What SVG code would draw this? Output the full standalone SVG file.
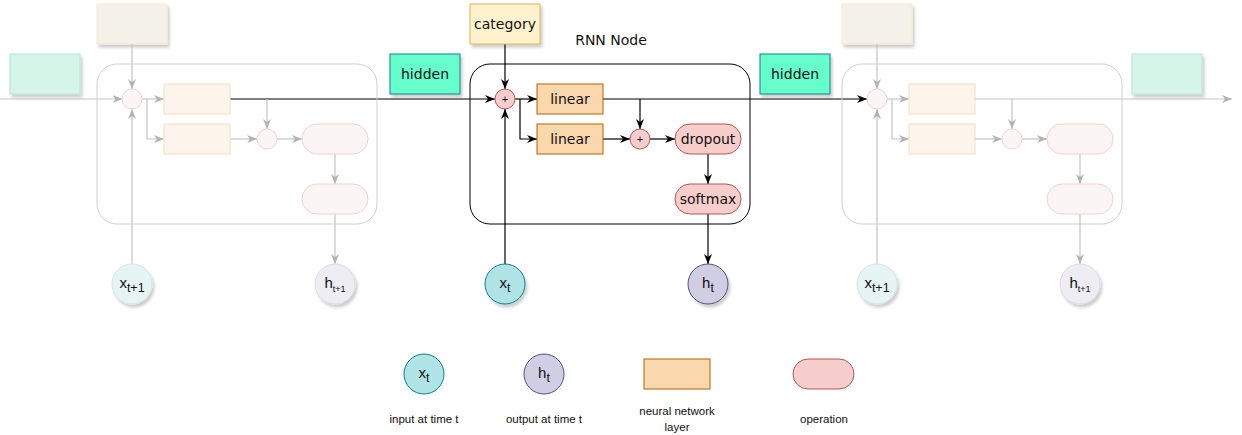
<svg xmlns="http://www.w3.org/2000/svg" width="1242" height="435" viewBox="0 0 1242 435">
<style>
.lbl{font-family:"DejaVu Sans",Verdana,sans-serif;font-size:14px;fill:#111;text-anchor:middle}
.sm{font-family:"Liberation Sans",Arial,sans-serif;fill:#111;text-anchor:middle}
.leg{font-family:"Liberation Sans",Arial,sans-serif;font-size:11.5px;fill:#111;text-anchor:middle}
.hid{fill:#66ffcc;stroke:#0e8088;stroke-width:1}
.cat{fill:#fff2cc;stroke:#d6b656;stroke-width:1}
.lin{fill:#fad7ac;stroke:#b46504;stroke-width:1}
.op{fill:#f8cecc;stroke:#b85450;stroke-width:1}
.xin{fill:#b0e3e6;stroke:#0e8088;stroke-width:1}
.hout{fill:#d0cee2;stroke:#56517e;stroke-width:1}
.box{fill:none;stroke:#000;stroke-width:1}
.ln{fill:none;stroke:#000;stroke-width:1.2}
.fhid{fill:#d5f5e9;stroke:#b3e3d9;stroke-width:1}
.fcat{fill:#f4f1e9;stroke:#f7e9cc;stroke-width:1}
.flin{fill:#fdf5ec;stroke:#f7dcbf;stroke-width:1}
.fop{fill:#fcf5f5;stroke:#f0d2d0;stroke-width:1}
.fxin{fill:#e6f4f4;stroke:#cde8ea;stroke-width:1}
.fhout{fill:#eeedf3;stroke:#dcdbe6;stroke-width:1}
.fbox{fill:none;stroke:#cfcfcf;stroke-width:1}
.fln{fill:none;stroke:#c4c4c4;stroke-width:1.2}
</style>
<defs>
<marker id="ab" markerUnits="userSpaceOnUse" markerWidth="10" markerHeight="10" viewBox="0 0 10 10" refX="10" refY="5" orient="auto">
<path d="M0,1 L10,5 L0,9 L3,5 Z" fill="#000"/>
</marker>
<marker id="ag" markerUnits="userSpaceOnUse" markerWidth="10" markerHeight="10" viewBox="0 0 10 10" refX="10" refY="5" orient="auto">
<path d="M0,1 L10,5 L0,9 L3,5 Z" fill="#b3b3b3"/>
</marker>
<filter id="sh" x="-20%" y="-20%" width="150%" height="150%">
<feDropShadow dx="2" dy="3" stdDeviation="1.5" flood-color="#000" flood-opacity="0.2"/>
</filter>
<g id="fnode">
<rect class="fbox" x="470" y="64" width="280" height="160" rx="20"/>
<rect class="fcat" x="470" y="4" width="70" height="40" filter="url(#sh)"/>
<path class="fln" d="M505,44 V89" marker-end="url(#ag)"/>
<path class="fln" d="M505,264 V109" marker-end="url(#ag)"/>
<path class="fln" d="M515,99 H537" marker-end="url(#ag)"/>
<path class="fln" d="M520,99 V139 H537" marker-end="url(#ag)"/>
<path class="fln" d="M640,99 V129" marker-end="url(#ag)"/>
<path class="fln" d="M603,139 H630" marker-end="url(#ag)"/>
<path class="fln" d="M650,139 H675" marker-end="url(#ag)"/>
<path class="fln" d="M708,154 V184" marker-end="url(#ag)"/>
<path class="fln" d="M708,214 V264" marker-end="url(#ag)"/>
<circle class="fop" cx="505" cy="99" r="10"/>
<rect class="flin" x="537" y="84" width="66" height="30"/>
<rect class="flin" x="537" y="124" width="66" height="30"/>
<circle class="fop" cx="640" cy="139" r="10"/>
<rect class="fop" x="675" y="124" width="66" height="30" rx="15"/>
<rect class="fop" x="675" y="184" width="66" height="30" rx="15"/>
<circle class="fxin" cx="505" cy="284" r="20" filter="url(#sh)"/>
<circle class="fhout" cx="708" cy="284" r="20" filter="url(#sh)"/>
</g>
</defs>

<g id="connectors">
<path class="fln" d="M0,99 H122.5" marker-end="url(#ag)"/>
<path class="ln" d="M230,99 H495" marker-end="url(#ab)"/>
<path class="ln" d="M603,99 H867" marker-end="url(#ab)"/>
<path class="fln" d="M975,99 H1232" marker-end="url(#ag)"/>
<path class="ln" d="M505,44 V89" marker-end="url(#ab)"/>
<path class="ln" d="M505,264 V109" marker-end="url(#ab)"/>
<path class="ln" d="M515,99 H537" marker-end="url(#ab)"/>
<path class="ln" d="M520,99 V139 H537" marker-end="url(#ab)"/>
<path class="ln" d="M640,99 V129" marker-end="url(#ab)"/>
<path class="ln" d="M603,139 H630" marker-end="url(#ab)"/>
<path class="ln" d="M650,139 H675" marker-end="url(#ab)"/>
<path class="ln" d="M708,154 V184" marker-end="url(#ab)"/>
<path class="ln" d="M708,214 V264" marker-end="url(#ab)"/>
</g>

<g id="node-left" transform="translate(-373,0)">
<use href="#fnode"/>
<text class="sm" x="505" y="288" font-size="15">x<tspan font-size="12.5" dy="4">t+1</tspan></text>
<text class="sm" x="708" y="288" font-size="15">h<tspan font-size="9" dy="4">t+1</tspan></text>
</g>
<g id="node-right" transform="translate(372,0)">
<use href="#fnode"/>
<text class="sm" x="505" y="288" font-size="15">x<tspan font-size="12.5" dy="4">t+1</tspan></text>
<text class="sm" x="708" y="288" font-size="15">h<tspan font-size="9" dy="4">t+1</tspan></text>
</g>

<g id="hidden-faded-left"><rect class="fhid" x="10" y="54" width="70" height="40" filter="url(#sh)"/></g>
<g id="hidden-faded-right"><rect class="fhid" x="1132" y="54" width="70" height="40" filter="url(#sh)"/></g>

<g id="rnn-node">
<rect class="box" x="470" y="64" width="280" height="160" rx="20"/>
<text class="lbl" x="611" y="45">RNN Node</text>
</g>
<g id="category"><rect class="cat" x="470" y="4" width="70" height="40" filter="url(#sh)"/><text class="lbl" x="505" y="29">category</text></g>
<g id="hidden-left"><rect class="hid" x="390" y="54" width="70" height="40" filter="url(#sh)"/><text class="lbl" x="425" y="79">hidden</text></g>
<g id="hidden-right"><rect class="hid" x="760" y="54" width="70" height="40" filter="url(#sh)"/><text class="lbl" x="795" y="79">hidden</text></g>
<g id="plus1"><circle class="op" cx="505" cy="99" r="10"/><text class="sm" x="505" y="103" font-size="11">+</text></g>
<g id="linear1"><rect class="lin" x="537" y="84" width="66" height="30"/><text class="lbl" x="570" y="104">linear</text></g>
<g id="linear2"><rect class="lin" x="537" y="124" width="66" height="30"/><text class="lbl" x="570" y="144">linear</text></g>
<g id="plus2"><circle class="op" cx="640" cy="139" r="10"/><text class="sm" x="640" y="143" font-size="11">+</text></g>
<g id="dropout"><rect class="op" x="675" y="124" width="66" height="30" rx="15"/><text class="lbl" x="708" y="144">dropout</text></g>
<g id="softmax"><rect class="op" x="675" y="184" width="66" height="30" rx="15"/><text class="lbl" x="708" y="204">softmax</text></g>
<g id="xt"><circle class="xin" cx="505" cy="284" r="20" filter="url(#sh)"/><text class="sm" x="505" y="288" font-size="15">x<tspan font-size="12.5" dy="4">t</tspan></text></g>
<g id="ht"><circle class="hout" cx="708" cy="284" r="20" filter="url(#sh)"/><text class="sm" x="708" y="288" font-size="15">h<tspan font-size="12.5" dy="4">t</tspan></text></g>

<g id="legend-input"><circle class="xin" cx="424" cy="374" r="20"/><text class="sm" x="424" y="378" font-size="15">x<tspan font-size="12.5" dy="4">t</tspan></text><text class="leg" x="424" y="423">input at time t</text></g>
<g id="legend-output"><circle class="hout" cx="544" cy="374" r="20"/><text class="sm" x="544" y="378" font-size="15">h<tspan font-size="12.5" dy="4">t</tspan></text><text class="leg" x="544" y="423">output at time t</text></g>
<g id="legend-layer"><rect class="lin" x="644" y="359" width="66" height="30"/><text class="leg" x="677" y="415">neural network</text><text class="leg" x="677" y="431">layer</text></g>
<g id="legend-op"><rect class="op" x="793" y="359" width="61" height="30" rx="15"/><text class="leg" x="824" y="423">operation</text></g>
</svg>
